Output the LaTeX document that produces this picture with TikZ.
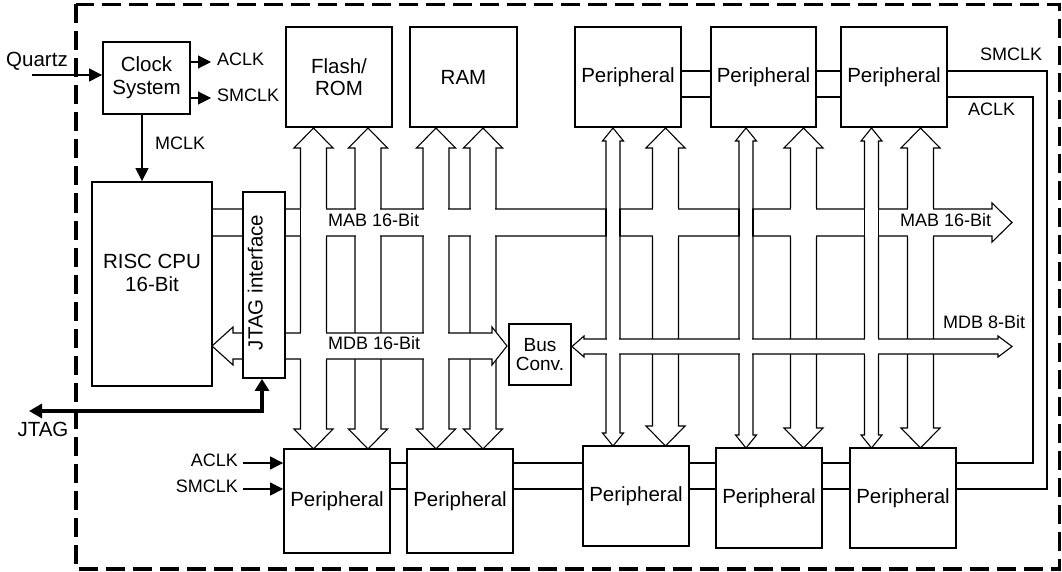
\documentclass[tikz,border=0pt]{standalone}
\usepackage{fontspec}
\setmainfont{Liberation Sans}
\usetikzlibrary{arrows.meta}
% vertical double arrow: #1 centre x, #2 top tip y, #3 bottom tip y, #4 shaft half width, #5 head half width, #6 head length
\newcommand{\VArrow}[6]{%
  \draw[bus] (#1,#2) -- ({#1+#5},{#2+#6}) -- ({#1+#4},{#2+#6}) -- ({#1+#4},{#3-#6}) -- ({#1+#5},{#3-#6}) -- (#1,#3)
    -- ({#1-#5},{#3-#6}) -- ({#1-#4},{#3-#6}) -- ({#1-#4},{#2+#6}) -- ({#1-#5},{#2+#6}) -- cycle;}
% open junction: xL, xR, yT, yB
\newcommand{\OpenJ}[4]{\fill[white] ({#1+0.65},{#3-0.9}) rectangle ({#2-0.65},{#4+0.9});}
% vertical pipe passing over a horizontal pipe
\newcommand{\OverJ}[4]{\OpenJ{#1}{#2}{#3}{#4}\draw[wire] (#1,#3) -- (#1,#4) (#2,#3) -- (#2,#4);}
\tikzset{
  bus/.style={draw=black, fill=white, line width=1.1pt, line join=miter},
  wire/.style={line width=1.1pt},
  clk/.style={wire, -{Triangle[length=13pt,width=13pt]}},
  mod/.style={draw=black, fill=white, line width=1.8pt, inner sep=0pt, align=center,
              font=\fontsize{20.5}{22}\selectfont},
  lbl/.style={inner sep=0pt, text height=0.72em, text depth=0pt, font=\fontsize{18}{20}\selectfont},
  big/.style={inner sep=0pt, text height=0.72em, text depth=0pt, font=\fontsize{20.5}{22}\selectfont},
}
\begin{document}
\begin{tikzpicture}[x=1pt,y=-1pt]
\useasboundingbox (0,0) rectangle (1062,572);
% frame
\draw[line width=3.2pt, dash pattern=on 19pt off 8pt] (76,4.5) rectangle (1059.5,569);

% vertical double arrows
\VArrow{313.5}{128}{449}{13}{19.5}{20}
\VArrow{368}{128}{449}{13}{19.5}{20}
\VArrow{436}{128}{449}{13}{19.5}{20}
\VArrow{483}{128}{449}{13}{19.5}{20}
\VArrow{613}{128}{446}{7}{10.5}{13}
\VArrow{665.5}{128}{446}{13}{19.5}{20}
\VArrow{746}{128}{448}{7}{10.5}{13}
\VArrow{803.5}{128}{448}{13}{19.5}{20}
\VArrow{871.5}{128}{448}{7}{10.5}{13}
\VArrow{920.5}{128}{448}{13}{19.5}{20}

% horizontal buses
\draw[bus] (212,209) -- (992,209) -- (992,203) -- (1012,222.5) -- (992,242) -- (992,236) -- (212,236) -- cycle;
\draw[bus] (212,346) -- (233,327) -- (233,333) -- (492,333) -- (492,327) -- (507,346) -- (492,365) -- (492,359)
  -- (233,359) -- (233,365) -- cycle;
\draw[bus] (572,346.5) -- (584,336) -- (584,339) -- (998,339) -- (998,336) -- (1012,346.5) -- (998,357) -- (998,354)
  -- (584,354) -- (584,357) -- cycle;

% junctions on MAB
\OpenJ{300.5}{326.5}{209}{236}\draw[wire] (300.5,209) -- (300.5,236);
\OpenJ{355}{381}{209}{236}
\OpenJ{423}{449}{209}{236}
\OpenJ{470}{496}{209}{236}
\OverJ{606}{620}{209}{236}
\OpenJ{652.5}{678.5}{209}{236}
\OverJ{739}{753}{209}{236}
\OpenJ{790.5}{816.5}{209}{236}
\OverJ{864.5}{878.5}{209}{236}
\OpenJ{907.5}{933.5}{209}{236}
% junctions on MDB 16
\OpenJ{300.5}{326.5}{333}{359}
\OpenJ{423}{449}{333}{359}
% junctions on MDB 8
\OpenJ{606}{620}{339}{354}
\OpenJ{739}{753}{339}{354}
\OpenJ{864.5}{878.5}{339}{354}

% bus labels
\node[lbl, anchor=west] (mabl) at (328,222.5) {MAB 16-Bit};
\node[lbl, anchor=west] (mabr) at (900,222.5) {MAB 16-Bit};
\node[lbl, anchor=west] (mdbl) at (328,346) {MDB 16-Bit};
\node[lbl, anchor=west] (mdbr) at (943,325) {MDB 8-Bit};

% modules
\node[mod, minimum width=87, minimum height=72] (clock) at (146.5,78) {Clock\\[1pt]System};
\node[mod, minimum width=106, minimum height=100] (flash) at (339,77) {Flash/\\ROM};
\node[mod, minimum width=107, minimum height=100] (ram) at (463.5,77) {RAM};
\node[mod, minimum width=106, minimum height=100] (tp1) at (628,77) {Peripheral};
\node[mod, minimum width=105, minimum height=100] (tp2) at (763.5,77) {Peripheral};
\node[mod, minimum width=106, minimum height=100] (tp3) at (894,77) {Peripheral};
\node[mod, minimum width=120, minimum height=204] (cpu) at (152,284) {};
\node[inner sep=0pt, align=center, font=\fontsize{20.5}{23}\selectfont] (cputxt) at (152,272.5) {RISC CPU\\16-Bit};
\node[mod, minimum width=42, minimum height=186] (jtagbox) at (264,285) {};
\node[big, rotate=90] (jtagtxt) at (259,282.5) {JTAG interface};
\node[mod, minimum width=62, minimum height=61, font=\fontsize{19}{18.5}\selectfont] (conv) at (540,354.5) {Bus\\Conv.};
\node[mod, minimum width=106, minimum height=104] (bp1) at (337,501) {Peripheral};
\node[mod, minimum width=106, minimum height=104] (bp2) at (460,501) {Peripheral};
\node[mod, minimum width=106, minimum height=100] (bp3) at (636,496) {Peripheral};
\node[mod, minimum width=106, minimum height=100] (bp4) at (769,498) {Peripheral};
\node[mod, minimum width=106, minimum height=100] (bp5) at (903,498) {Peripheral};

% clock system
\coordinate (qz) at (32,75);
\draw[clk] (qz) -- (qz -| clock.west);
\node[big] (quartz) at (37,63) {Quartz};
\coordinate (ta) at (211,62);
\coordinate (ts) at (211,98);
\draw[clk] (ta -| clock.east) -- (ta);
\draw[clk] (ts -| clock.east) -- (ts);
\node[lbl, anchor=west] (aclkt) at (217,62) {ACLK};
\node[lbl, anchor=west] (smclkt) at (217,98) {SMCLK};
\coordinate (mc) at (142,150);
\draw[clk] (mc |- clock.south) -- (mc |- cpu.north);
\node[lbl, anchor=west] (mclk) at (155,146) {MCLK};

% JTAG
\coordinate (jc) at (262,411);
\coordinate (jt) at (29,411);
\draw[line width=3.5pt, line join=miter, {Triangle[length=12pt,width=14pt]}-{Triangle[length=13pt,width=14pt]}]
  (jc |- jtagbox.south) -- (jc) -- (jt);
\node[big] (jtaglbl) at (43,433) {JTAG};

% bottom clock inputs
\coordinate (ba) at (243,463);
\coordinate (bs) at (243,489);
\draw[clk] (ba) -- (ba -| bp1.west);
\draw[clk] (bs) -- (bs -| bp1.west);
\node[lbl, anchor=east] (aclkb) at (238,463) {ACLK};
\node[lbl, anchor=east] (smclkb) at (238,489) {SMCLK};

% clock chains
\coordinate (ty1) at (0,71);
\coordinate (ty2) at (0,97);
\coordinate (by1) at (0,463);
\coordinate (by2) at (0,489);
\foreach \a/\b in {tp1/tp2,tp2/tp3}
  \draw[wire] (\a.east |- ty1) -- (\b.west |- ty1) (\a.east |- ty2) -- (\b.west |- ty2);
\foreach \a/\b in {bp1/bp2,bp2/bp3,bp3/bp4,bp4/bp5}
  \draw[wire] (\a.east |- by1) -- (\b.west |- by1) (\a.east |- by2) -- (\b.west |- by2);
\coordinate (rs) at (1047,0);
\coordinate (ra) at (1033,0);
\draw[wire] (tp3.east |- ty1) -- (rs |- ty1) -- (rs |- by2) -- (bp5.east |- by2);
\draw[wire] (tp3.east |- ty2) -- (ra |- ty2) -- (ra |- by1) -- (bp5.east |- by1);
\node[lbl] (smclkr) at (1011,57) {SMCLK};
\node[lbl] (aclkr) at (991.5,112) {ACLK};
\end{tikzpicture}
\end{document}
